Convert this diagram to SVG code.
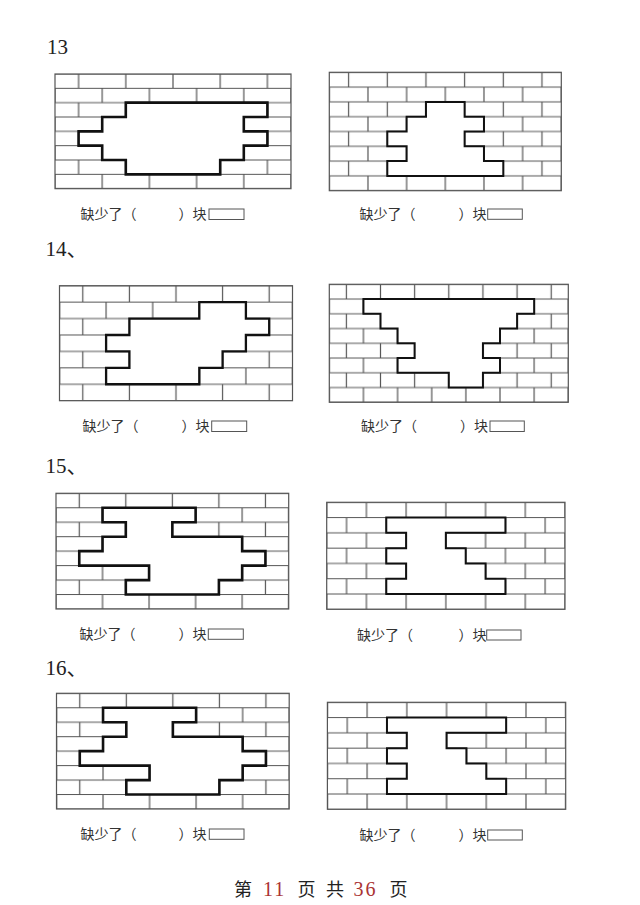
<svg xmlns="http://www.w3.org/2000/svg" width="640" height="905" viewBox="0 0 640 905">
<style>
.g{fill:none;stroke:#555;stroke-width:1.2}
.wall{stroke:#555;stroke-width:1.2}
.hole{fill:#fff;stroke:#111;stroke-linejoin:miter}
.thick{stroke-width:2.6}
.thin{stroke-width:2}
.lbl{font-family:"Noto Sans CJK SC","Noto Sans",sans-serif;font-size:14px;fill:#333}
.box{fill:#fff;stroke:#555;stroke-width:1}
.num{font-family:"Liberation Serif","Noto Sans CJK SC",serif;font-size:21px;fill:#222}
.ft{font-family:"Noto Sans CJK SC",serif;font-size:18px;fill:#222}
.fd{font-family:"Liberation Serif",serif;font-size:20px;fill:#a33;letter-spacing:2px}
</style>
<defs>
<pattern id="p1" patternUnits="userSpaceOnUse" x="55" y="74" width="47.2" height="28.667"><path class="g" d="M0 0H47.2M0 14.333H47.2M0 28.667H47.2M23.6 0V14.333M0 14.333V28.667M47.2 14.333V28.667"/></pattern>
<pattern id="p2" patternUnits="userSpaceOnUse" x="329.3" y="72.3" width="38.667" height="29.6"><path class="g" d="M0 0H38.667M0 14.8H38.667M0 29.6H38.667M19.333 0V14.8M0 14.8V29.6M38.667 14.8V29.6"/></pattern>
<pattern id="p3" patternUnits="userSpaceOnUse" x="59.5" y="285.7" width="46.6" height="32.857"><path class="g" d="M0 0H46.6M0 16.4286H46.6M0 32.857H46.6M23.3 0V16.4286M0 16.4286V32.857M46.6 16.4286V32.857"/></pattern>
<pattern id="p4" patternUnits="userSpaceOnUse" x="329.3" y="284.3" width="34.143" height="29.5"><path class="g" d="M0 0H34.143M0 14.75H34.143M0 29.5H34.143M17.071 0V14.75M0 14.75V29.5M34.143 14.75V29.5"/></pattern>
<pattern id="p5" patternUnits="userSpaceOnUse" x="56" y="493.3" width="46.54" height="28.925"><path class="g" d="M0 0H46.54M0 14.4625H46.54M0 28.925H46.54M23.27 0V14.4625M0 14.4625V28.925M46.54 14.4625V28.925"/></pattern>
<pattern id="p6" patternUnits="userSpaceOnUse" x="326.7" y="502.3" width="39.717" height="30.571"><path class="g" d="M0 0H39.717M0 15.2857H39.717M0 30.571H39.717M0 0V15.2857M39.717 0V15.2857M19.858 15.2857V30.571"/></pattern>
</defs>

<text class="num" x="47" y="54">13</text>
<text class="num" x="45.5" y="256">14、</text>
<text class="num" x="45.5" y="473">15、</text>
<text class="num" x="45.5" y="675">16、</text>

<g id="wall-13a">
<rect class="wall" x="55" y="74" width="236" height="114.67" fill="url(#p1)"/>
<polygon class="hole thick" points="125.8,102.67 267.4,102.67 267.4,117 243.8,117 243.8,131.33 267.4,131.33 267.4,145.67 243.8,145.67 243.8,160 220.2,160 220.2,174.33 125.8,174.33 125.8,160 102.2,160 102.2,145.67 78.6,145.67 78.6,131.33 102.2,131.33 102.2,117 125.8,117"/>
<text class="lbl" x="80.5" y="219">缺少了（</text><text class="lbl" x="178.5" y="219">）块</text>
<rect class="box" x="209" y="209" width="35" height="10.5"/>
</g>

<g id="wall-13b">
<rect class="wall" x="329.3" y="72.3" width="232" height="118.4" fill="url(#p2)"/>
<polygon class="hole thin" points="425.97,101.9 464.63,101.9 464.63,116.7 483.97,116.7 483.97,131.5 464.63,131.5 464.63,146.3 483.97,146.3 483.97,161.1 503.3,161.1 503.3,175.9 387.3,175.9 387.3,161.1 406.63,161.1 406.63,146.3 387.3,146.3 387.3,131.5 406.63,131.5 406.63,116.7 425.97,116.7"/>
<text class="lbl" x="359.5" y="219">缺少了（</text><text class="lbl" x="458.5" y="219">）块</text>
<rect class="box" x="487.7" y="209" width="34.6" height="10.3"/>
</g>

<g id="wall-14a">
<rect class="wall" x="59.5" y="285.7" width="233" height="115" fill="url(#p3)"/>
<polygon class="hole thin" style="stroke-width:2.3" points="199.3,302.13 245.9,302.13 245.9,318.56 269.2,318.56 269.2,334.99 245.9,334.99 245.9,351.41 222.6,351.41 222.6,367.84 199.3,367.84 199.3,384.27 106.1,384.27 106.1,367.84 129.4,367.84 129.4,351.41 106.1,351.41 106.1,334.99 129.4,334.99 129.4,318.56 199.3,318.56"/>
<text class="lbl" x="82.5" y="431">缺少了（</text><text class="lbl" x="181.5" y="431">）块</text>
<rect class="box" x="211.7" y="421" width="35" height="10.5"/>
</g>

<g id="wall-14b">
<rect class="wall" x="329.3" y="284.3" width="239" height="118" fill="url(#p4)"/>
<polygon class="hole thin" points="363.44,299.05 534.16,299.05 534.16,313.8 517.09,313.8 517.09,328.55 500.01,328.55 500.01,343.3 482.94,343.3 482.94,358.05 500.01,358.05 500.01,372.8 482.94,372.8 482.94,387.55 448.8,387.55 448.8,372.8 397.59,372.8 397.59,358.05 414.66,358.05 414.66,343.3 397.59,343.3 397.59,328.55 380.51,328.55 380.51,313.8 363.44,313.8"/>
<text class="lbl" x="361" y="431">缺少了（</text><text class="lbl" x="460" y="431">）块</text>
<rect class="box" x="490" y="421" width="34.3" height="10.5"/>
</g>

<g id="wall-15a">
<rect class="wall" x="56" y="493.3" width="232.7" height="115.7" fill="url(#p5)"/>
<polygon class="hole thick" points="102.54,507.76 195.62,507.76 195.62,522.23 172.35,522.23 172.35,536.69 242.16,536.69 242.16,551.15 265.43,551.15 265.43,565.61 242.16,565.61 242.16,580.08 218.89,580.08 218.89,594.54 125.81,594.54 125.81,580.08 149.08,580.08 149.08,565.61 79.27,565.61 79.27,551.15 102.54,551.15 102.54,536.69 125.81,536.69 125.81,522.23 102.54,522.23"/>
<text class="lbl" x="79.5" y="639">缺少了（</text><text class="lbl" x="178.5" y="639">）块</text>
<rect class="box" x="208.3" y="629" width="35" height="10.3"/>
</g>

<g id="wall-15b">
<rect class="wall" x="326.7" y="502.3" width="238.3" height="107" fill="url(#p6)"/>
<polygon class="hole thin" points="386.27,517.59 505.43,517.59 505.43,532.87 445.85,532.87 445.85,548.16 465.71,548.16 465.71,563.44 485.57,563.44 485.57,578.73 505.43,578.73 505.43,594.01 386.27,594.01 386.27,578.73 406.13,578.73 406.13,563.44 386.27,563.44 386.27,548.16 406.13,548.16 406.13,532.87 386.27,532.87"/>
<text class="lbl" x="357" y="640">缺少了（</text><text class="lbl" x="458.5" y="640">）块</text>
<rect class="box" x="486.7" y="630" width="34.3" height="10"/>
</g>

<g id="wall-16a">
<g transform="translate(0.5,200)">
<rect class="wall" x="56" y="493.3" width="232.7" height="115.7" fill="url(#p5)"/>
<polygon class="hole thick" points="102.54,507.76 195.62,507.76 195.62,522.23 172.35,522.23 172.35,536.69 242.16,536.69 242.16,551.15 265.43,551.15 265.43,565.61 242.16,565.61 242.16,580.08 218.89,580.08 218.89,594.54 125.81,594.54 125.81,580.08 149.08,580.08 149.08,565.61 79.27,565.61 79.27,551.15 102.54,551.15 102.54,536.69 125.81,536.69 125.81,522.23 102.54,522.23"/>
</g>
<text class="lbl" x="80.5" y="839">缺少了（</text><text class="lbl" x="178.5" y="839">）块</text>
<rect class="box" x="209.3" y="829" width="34.7" height="10.3"/>
</g>

<g id="wall-16b">
<g transform="translate(0.7,200)">
<rect class="wall" x="326.7" y="502.3" width="238.3" height="107" fill="url(#p6)"/>
<polygon class="hole thin" points="386.27,517.59 505.43,517.59 505.43,532.87 445.85,532.87 445.85,548.16 465.71,548.16 465.71,563.44 485.57,563.44 485.57,578.73 505.43,578.73 505.43,594.01 386.27,594.01 386.27,578.73 406.13,578.73 406.13,563.44 386.27,563.44 386.27,548.16 406.13,548.16 406.13,532.87 386.27,532.87"/>
</g>
<text class="lbl" x="359.5" y="840">缺少了（</text><text class="lbl" x="458.5" y="840">）块</text>
<rect class="box" x="487.7" y="830" width="34.6" height="10"/>
</g>

<g id="footer">
<text class="ft" x="234" y="896">第</text>
<text class="fd" x="263" y="896">11</text>
<text class="ft" x="297.5" y="896">页</text>
<text class="ft" x="326" y="896">共</text>
<text class="fd" x="353.5" y="896">36</text>
<text class="ft" x="389.5" y="896">页</text>
</g>
</svg>
